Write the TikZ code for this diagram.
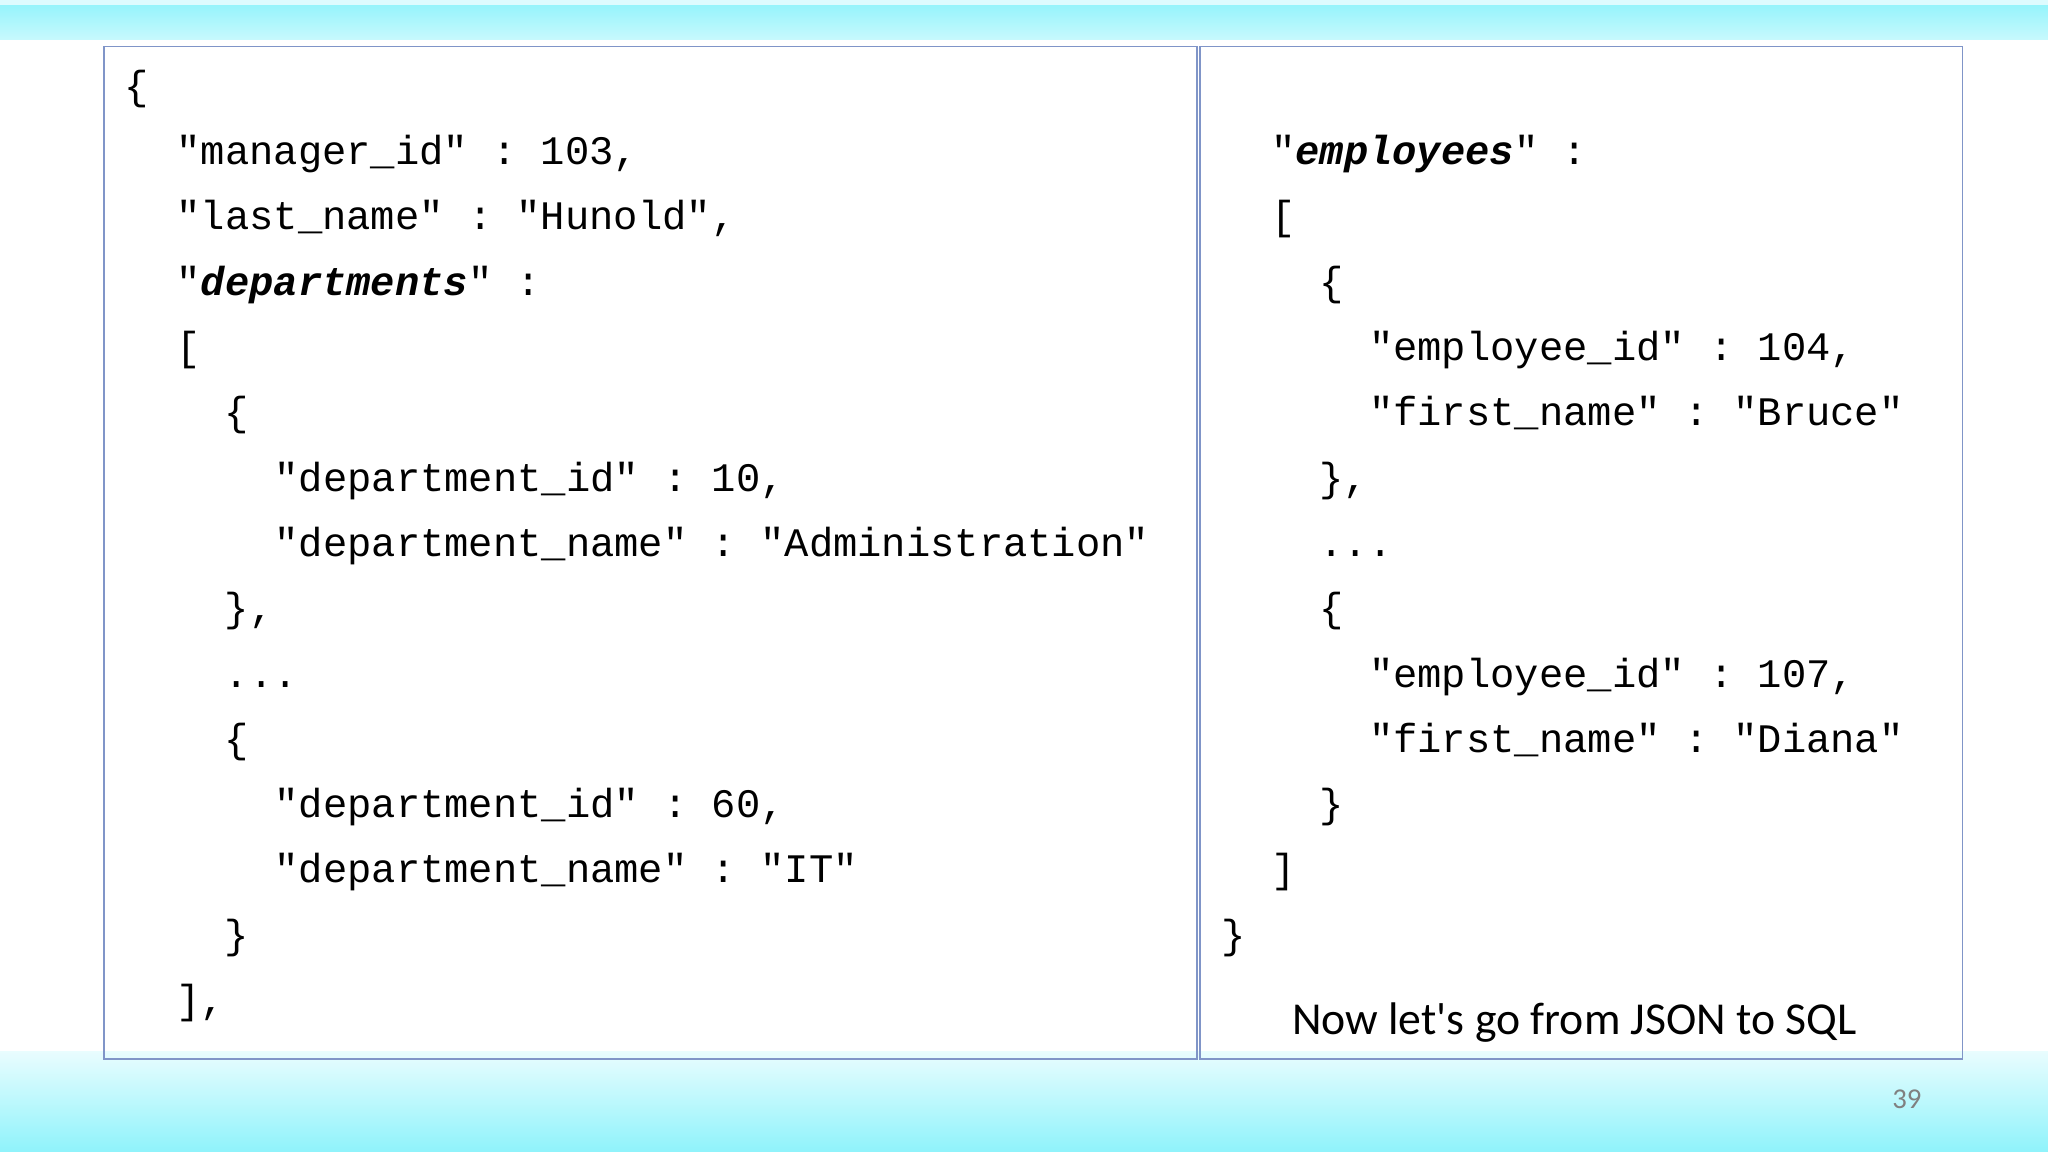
\documentclass[tikz,border=0pt]{standalone}
\usepackage{fontspec}
\setmonofont{Liberation Mono}
\newfontfamily\calib{Carlito}
\definecolor{cyanband}{HTML}{8FF3FB}
\definecolor{boxline}{HTML}{8095C8}
\begin{document}
\begin{tikzpicture}[x=1pt,y=-1pt,
  code/.style={anchor=base west,inner sep=0pt,font=\ttfamily\fontsize{31}{31}\selectfont},
  panel/.style={draw=boxline,line width=1.2pt}]
\useasboundingbox (0,0) rectangle (1568,882);
\shade[top color=cyanband,bottom color=cyanband!50!white] (0,0) rectangle (1568,30);
\fill[cyanband!30!white] (0,0) rectangle (1568,4);
\shade[top color=cyanband!20!white,bottom color=cyanband] (0,805) rectangle (1568,882);
\node[panel,minimum width=837pt,minimum height=775pt,anchor=north west,inner sep=0pt] (L) at (79,35) {};
\node[panel,minimum width=584pt,minimum height=775pt,anchor=north west,inner sep=0pt] (R) at (918,35) {};
% left lines
\node[code] (l1) at (95,76) {\{};
\node[code] (l2) at (135,126) {"manager\_id" : 103,};
\node[code] (l3) at (135,176) {"last\_name" : "Hunold",};
\node[code] (l4) at (135,226) {"\textbf{\textit{departments}}" :};
\node[code] (l5) at (135,276) {[};
\node[code] (l6) at (172,326) {\{};
\node[code] (l7) at (210,376) {"department\_id" : 10,};
\node[code] (l8) at (210,426) {"department\_name" : "Administration"};
\node[code] (l9) at (172,476) {\},};
\node[code] (l10) at (172,526) {...};
\node[code] (l11) at (172,576) {\{};
\node[code] (l12) at (210,626) {"department\_id" : 60,};
\node[code] (l13) at (210,676) {"department\_name" : "IT"};
\node[code] (l14) at (172,726) {\}};
\node[code] (l15) at (135,776) {],};
% right lines
\node[code] (r1) at (973,126) {"\textbf{\textit{employees}}" :};
\node[code] (r2) at (973,176) {[};
\node[code] (r3) at (1010,226) {\{};
\node[code] (r4) at (1048,276) {"employee\_id" : 104,};
\node[code] (r5) at (1048,326) {"first\_name" : "Bruce"};
\node[code] (r6) at (1010,376) {\},};
\node[code] (r7) at (1010,426) {...};
\node[code] (r8) at (1010,476) {\{};
\node[code] (r9) at (1048,526) {"employee\_id" : 107,};
\node[code] (r10) at (1048,576) {"first\_name" : "Diana"};
\node[code] (r11) at (1010,626) {\}};
\node[code] (r12) at (973,676) {]};
\node[code] (r13) at (935,726) {\}};
\node[anchor=base west,inner sep=0pt,font=\calib\fontsize{35}{35}\selectfont] (cap) at (989,792) {Now let's go from JSON to SQL};
\node[inner sep=0pt,text=gray,font=\calib\fontsize{22}{22}\selectfont] (pg) at (1460,842) {39};
\end{tikzpicture}
\end{document}
